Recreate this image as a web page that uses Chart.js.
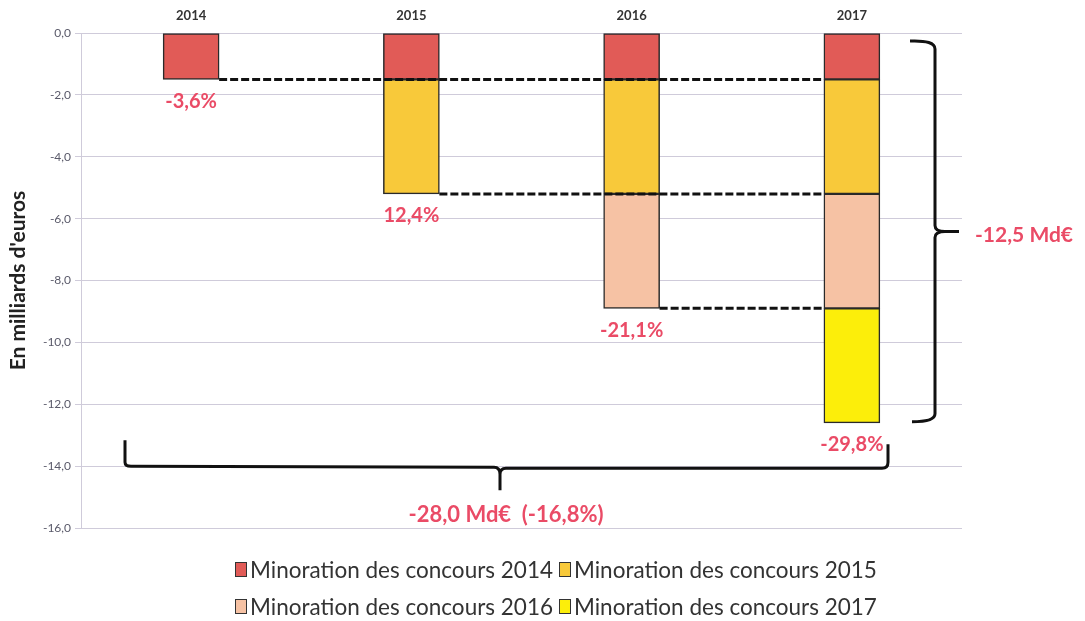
<!DOCTYPE html>
<html>
<head>
<meta charset="utf-8">
<script src="https://cdn.jsdelivr.net/npm/chart.js@4"></script>
<style>
  html, body { margin: 0; padding: 0; background: #fff; }
  #wrap { position: relative; width: 1085px; height: 621px; }
  #legend { position: absolute; left: 0; top: 551px; width: 1112px; font-family: Lato, "Open Sans", sans-serif; font-size: 22.5px; color: #333; }
  .row { display: flex; justify-content: center; height: 37px; align-items: center; }
  .item { display: flex; align-items: center; margin: 0 3px; }
  .box { width: 12px; height: 15px; border: 1.5px solid #333; margin-right: 3px; box-sizing: border-box; }
</style>
</head>
<body>
<div id="wrap">
  <canvas id="c" width="1085" height="621"></canvas>
  <div id="legend"></div>
</div>
<script>
const categories = ["2014", "2015", "2016", "2017"];
const seriesNames = ["Minoration des concours 2014", "Minoration des concours 2015", "Minoration des concours 2016", "Minoration des concours 2017"];
const minoration2014 = [-1.5, -1.5, -1.5, -1.5];
const minoration2015 = [null, -3.7, -3.7, -3.7];
const minoration2016 = [null, null, -3.7, -3.7];
const minoration2017 = [null, null, null, -3.7];
const cumulTotals = [-1.5, -5.2, -8.9, -12.6];
const pctLabels = ["-3,6%", "12,4%", "-21,1%", "-29,8%"];
const braceRightLabel = "-12,5 Md€";
const braceBottomLabel = "-28,0 Md€  (-16,8%)";
const yTicks = { min: -16, max: 0, step: 2 };
const colors = ["#e15b57", "#f8c93a", "#f6c2a4", "#fcee0a"];
const accent = "#ea4b66";

const seriesValues = [minoration2014, minoration2015, minoration2016, minoration2017];
const FONT = 'Lato, "Open Sans", sans-serif';

const annot = {
  id: 'annot',
  afterDatasetsDraw(chart) {
    const ctx = chart.ctx;
    const y = chart.scales.y;
    const lastBar = chart.getDatasetMeta(3).data[3];
    const lastLeft = lastBar.x - lastBar.width / 2;
    ctx.save();
    // dashed connectors
    ctx.strokeStyle = '#111';
    ctx.lineWidth = 3;
    ctx.setLineDash([8, 3]);
    for (let i = 0; i < 3; i++) {
      const bar = chart.getDatasetMeta(i).data[i];
      const py = y.getPixelForValue(cumulTotals[i]);
      ctx.beginPath();
      ctx.moveTo(bar.x + bar.width / 2, py);
      ctx.lineTo(lastLeft, py);
      ctx.stroke();
    }
    ctx.setLineDash([]);
    // percent labels
    ctx.fillStyle = accent;
    ctx.font = 'bold 20px ' + FONT;
    ctx.textAlign = 'center';
    ctx.textBaseline = 'middle';
    for (let i = 0; i < 4; i++) {
      const bar = chart.getDatasetMeta(0).data[i];
      const py = y.getPixelForValue(cumulTotals[i]);
      ctx.fillText(pctLabels[i], bar.x, py + 22);
    }
    // right brace
    const bx = 935;
    const yT = y.getPixelForValue(0) + 8;
    const yB = y.getPixelForValue(cumulTotals[3]) - 1;
    const yM = (yT + yB) / 2;
    ctx.strokeStyle = '#111';
    ctx.lineWidth = 3;
    ctx.beginPath();
    ctx.moveTo(910, yT);
    ctx.quadraticCurveTo(bx, yT - 1, bx, yT + 8);
    ctx.lineTo(bx, yM - 6);
    ctx.quadraticCurveTo(bx, yM, bx + 10, yM);
    ctx.lineTo(bx + 24, yM);
    ctx.moveTo(bx + 10, yM);
    ctx.quadraticCurveTo(bx, yM, bx, yM + 6);
    ctx.lineTo(bx, yB - 8);
    ctx.quadraticCurveTo(bx, yB, 912, yB);
    ctx.stroke();
    ctx.fillStyle = accent;
    ctx.font = 'bold 21px ' + FONT;
    ctx.textAlign = 'left';
    ctx.fillText(braceRightLabel, 975, yM + 4);
    // bottom brace
    const hy = y.getPixelForValue(-14);
    const lx = 125, rx = 888, mx = 500;
    ctx.beginPath();
    ctx.moveTo(lx, hy - 26);
    ctx.lineTo(lx, hy - 4);
    ctx.quadraticCurveTo(lx, hy, lx + 6, hy);
    ctx.lineTo(mx - 6, hy + 1);
    ctx.quadraticCurveTo(mx, hy + 1, mx, hy + 8);
    ctx.lineTo(mx, hy + 24);
    ctx.moveTo(mx, hy + 8);
    ctx.quadraticCurveTo(mx, hy + 2, mx + 6, hy + 2);
    ctx.lineTo(rx - 6, hy + 2);
    ctx.quadraticCurveTo(rx, hy + 2, rx, hy - 4);
    ctx.lineTo(rx, hy - 22);
    ctx.stroke();
    ctx.fillStyle = accent;
    ctx.font = 'bold 22px ' + FONT;
    ctx.textAlign = 'center';
    ctx.fillText(braceBottomLabel, 506, hy + 49);
    ctx.restore();
  }
};

const chart = new Chart(document.getElementById('c'), {
  type: 'bar',
  data: {
    labels: categories,
    datasets: seriesValues.map((vals, i) => ({
      label: seriesNames[i],
      data: vals,
      backgroundColor: colors[i],
      borderColor: '#2a2a2a',
      borderWidth: 1.5,
      borderSkipped: false,
      barThickness: 56
    }))
  },
  options: {
    responsive: false,
    animation: false,
    layout: { padding: { left: 6, right: 123, top: 0, bottom: 93 } },
    plugins: { legend: { display: false }, tooltip: { enabled: false } },
    scales: {
      x: {
        stacked: true,
        position: 'top',
        grid: { display: false },
        border: { display: false },
        ticks: { color: '#333', font: { family: FONT, size: 13, weight: 'bold' }, padding: 1 },
        afterFit: (s) => { s.height = 33; }
      },
      y: {
        stacked: true,
        min: yTicks.min,
        max: yTicks.max,
        grid: { color: '#cfcbda', lineWidth: 1, drawTicks: true, tickLength: 6 },
        border: { color: '#cfcbda' },
        ticks: {
          stepSize: yTicks.step,
          color: '#5a5a6a',
          font: { family: FONT, size: 12 },
          padding: 4,
          callback: (v) => v.toFixed(1).replace('.', ',')
        },
        title: { display: true, text: "En milliards d'euros", color: '#222', font: { family: FONT, size: 21, weight: 'bold' }, padding: { top: 0, bottom: 6 } },
        afterFit: (s) => { s.width = 75; }
      }
    }
  },
  plugins: [annot]
});

// HTML legend built from the datasets
const legend = document.getElementById('legend');
for (let r = 0; r < 2; r++) {
  const row = document.createElement('div');
  row.className = 'row';
  for (let k = 0; k < 2; k++) {
    const i = r * 2 + k;
    const item = document.createElement('div');
    item.className = 'item';
    const box = document.createElement('span');
    box.className = 'box';
    box.style.background = colors[i];
    const t = document.createElement('span');
    t.textContent = seriesNames[i];
    item.appendChild(box); item.appendChild(t);
    row.appendChild(item);
  }
  legend.appendChild(row);
}
</script>
</body>
</html>
